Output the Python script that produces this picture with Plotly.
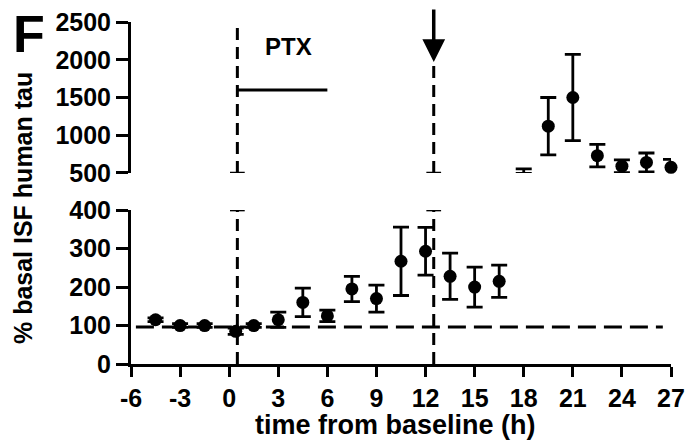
import plotly.graph_objects as go

# ---- data ----
time_low = [-4.5, -3, -1.5, 0.4, 1.5, 3, 4.5, 6, 7.5, 9, 10.5, 12, 13.5, 15, 16.5]
pct_low = [115, 100, 100, 85, 100, 115, 160, 125, 195, 170, 267, 293, 228, 200, 215]
err_low = [5, 5, 5, 8, 5, 20, 37, 15, 33, 35, 89, 62, 60, 52, 42]

time_up = [18, 19.5, 21, 22.5, 24, 25.5, 27]
pct_up = [495, 1120, 1500, 730, 590, 640, 575]
err_up_plus = [60, 380, 570, 150, 85, 125, 105]
err_up_minus = [0, 380, 570, 150, 85, 125, 105]

x_ticks = [-6, -3, 0, 3, 6, 9, 12, 15, 18, 21, 24, 27]
x_tick_labels = ["-6", "-3", "0", "3", "6", "9", "12", "15", "18", "21", "24", "27"]
y_low_ticks = [0, 100, 200, 300, 400]
y_up_ticks = [500, 1000, 1500, 2000, 2500]

event_times = [0.5, 12.5]          # vertical dashed markers
event_top_up = [2530, 1970]        # top of the dashed line in upper panel
baseline_level = 96
baseline_span = [-5.7, 26.5]
ptx_span = [0.5, 6]
ptx_level = 1600
ptx_label = "PTX"

FONT = "Liberation Sans, Arial, sans-serif"
BLACK = "#000000"

fig = go.Figure()

fig.add_trace(go.Scatter(
    x=time_low, y=pct_low, mode="markers",
    marker=dict(color=BLACK, size=13),
    error_y=dict(type="data", array=err_low, color=BLACK, thickness=2.8, width=8),
    xaxis="x", yaxis="y", cliponaxis=False, showlegend=False))

fig.add_trace(go.Scatter(
    x=time_up, y=pct_up, mode="markers",
    marker=dict(color=BLACK, size=13),
    error_y=dict(type="data", symmetric=False, array=err_up_plus,
                 arrayminus=err_up_minus, color=BLACK, thickness=2.8, width=8),
    xaxis="x", yaxis="y2", cliponaxis=False, showlegend=False))

shapes = []
# baseline dashed line
shapes.append(dict(type="line", xref="x", yref="y",
                   x0=baseline_span[0], x1=baseline_span[1],
                   y0=baseline_level, y1=baseline_level,
                   line=dict(color=BLACK, width=3, dash="18px,8px")))
for t, top in zip(event_times, event_top_up):
    # lower panel
    shapes.append(dict(type="line", xref="x", yref="y", x0=t, x1=t,
                       y0=y_low_ticks[0], y1=y_low_ticks[-1],
                       line=dict(color=BLACK, width=3, dash="12px,7px")))
    shapes.append(dict(type="line", xref="x", yref="y", x0=t - 0.45, x1=t + 0.45,
                       y0=y_low_ticks[-1], y1=y_low_ticks[-1],
                       line=dict(color=BLACK, width=2.5)))
    # upper panel
    shapes.append(dict(type="line", xref="x", yref="y2", x0=t, x1=t,
                       y0=y_up_ticks[0], y1=top,
                       line=dict(color=BLACK, width=3, dash="12px,7px")))
    shapes.append(dict(type="line", xref="x", yref="y2", x0=t - 0.45, x1=t + 0.45,
                       y0=y_up_ticks[0], y1=y_up_ticks[0],
                       line=dict(color=BLACK, width=2.5)))
# PTX bar
shapes.append(dict(type="line", xref="x", yref="y2", x0=ptx_span[0], x1=ptx_span[1],
                   y0=ptx_level, y1=ptx_level, line=dict(color=BLACK, width=3)))

annotations = [
    dict(text="<b>F</b>", xref="paper", yref="paper", x=-0.188, y=0.965,
         xanchor="center", yanchor="middle",
         showarrow=False, font=dict(family=FONT, size=52, color=BLACK)),
    dict(text="% basal ISF human tau", xref="paper", yref="paper", x=-0.200, y=0.456,
         xanchor="center", yanchor="middle",
         textangle=-90, showarrow=False,
         font=dict(family=FONT, size=25, color=BLACK, weight="bold")),
    dict(text="time from baseline (h)", xref="paper", yref="paper", x=0.489, y=-0.178,
         xanchor="center", yanchor="middle",
         showarrow=False, font=dict(family=FONT, size=27, color=BLACK, weight="bold")),
    dict(text=ptx_label, xref="x", yref="y2", x=3.6, y=2182, showarrow=False,
         xanchor="center", yanchor="middle",
         font=dict(family=FONT, size=24, color=BLACK, weight="bold")),
    dict(text="", xref="x", yref="y2", x=event_times[1], y=event_top_up[1],
         showarrow=True, arrowhead=2, arrowsize=1.3, arrowwidth=3.5,
         arrowcolor=BLACK, ax=0, ay=-54),
]

tickfont = dict(family=FONT, size=25, color=BLACK, weight="bold")
axis_common = dict(showline=True, linewidth=3, linecolor=BLACK, ticks="outside",
                   tickwidth=3, tickcolor=BLACK, showgrid=False, zeroline=False,
                   tickfont=tickfont, automargin=False)

fig.update_layout(
    template="none",
    width=686, height=444,
    margin=dict(l=131, r=15, t=22, b=80, autoexpand=False),
    paper_bgcolor="white", plot_bgcolor="white",
    showlegend=False,
    xaxis=dict(range=[x_ticks[0], x_ticks[-1]], tickvals=x_ticks, ticktext=x_tick_labels,
               ticklen=10, anchor="y", domain=[0, 1], **axis_common),
    yaxis=dict(range=[y_low_ticks[0], y_low_ticks[-1]], tickvals=y_low_ticks,
               ticklen=12, domain=[0, 0.450], anchor="x", **axis_common),
    yaxis2=dict(range=[y_up_ticks[0], y_up_ticks[-1]], tickvals=y_up_ticks,
                ticklen=12, domain=[0.5585, 1], anchor="x", **axis_common),
    shapes=shapes,
    annotations=annotations,
)

fig.write_html("out.html", config={"displayModeBar": False},
               post_script="document.body.style.margin='0';document.body.style.overflow='hidden';")
